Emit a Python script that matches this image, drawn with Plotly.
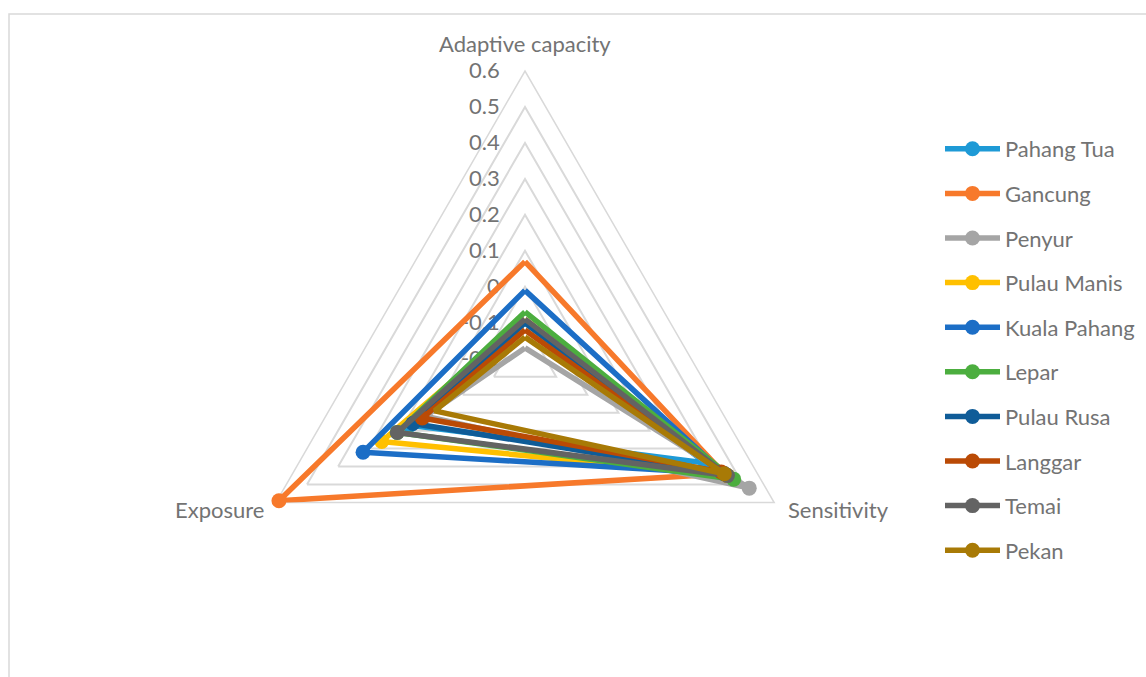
import math
import plotly.graph_objects as go

# Vulnerability components for each coastal village
categories = ["Adaptive capacity", "Sensitivity", "Exposure"]

pahang_tua = [-0.10, 0.38, 0.17]
gancung = [0.07, 0.44, 0.59]
penyur = [-0.17, 0.52, 0.12]
pulau_manis = [-0.09, 0.45, 0.26]
kuala_pahang = [-0.01, 0.44, 0.32]
lepar = [-0.07, 0.47, 0.21]
pulau_rusa = [-0.10, 0.44, 0.16]
langgar = [-0.12, 0.43, 0.13]
temai = [-0.09, 0.45, 0.21]
pekan = [-0.14, 0.44, 0.09]

series = [
    ("Pahang Tua", pahang_tua, "#1E9AD6"),
    ("Gancung", gancung, "#F7792B"),
    ("Penyur", penyur, "#A5A5A5"),
    ("Pulau Manis", pulau_manis, "#FFC000"),
    ("Kuala Pahang", kuala_pahang, "#1C6EC6"),
    ("Lepar", lepar, "#4CAE3F"),
    ("Pulau Rusa", pulau_rusa, "#0F5C98"),
    ("Langgar", langgar, "#BA4A05"),
    ("Temai", temai, "#636363"),
    ("Pekan", pekan, "#A87A06"),
]

radial_ticks = [-0.2, -0.1, 0, 0.1, 0.2, 0.3, 0.4, 0.5, 0.6]
radial_labels = ["-0.2", "-0.1", "0", "0.1", "0.2", "0.3", "0.4", "0.5", "0.6"]

FONT = "Lato"
TEXT = "#737373"
GRID = "#D9D9D9"
FS = 22

fig = go.Figure()
for i, (name, vals, color) in enumerate(series):
    fig.add_trace(go.Scatterpolar(
        r=vals + [vals[0]],
        theta=categories + [categories[0]],
        mode="lines+markers",
        name=name,
        legendgroup=f"g{i}",
        line=dict(color=color, width=5.5),
        marker=dict(color=color, size=15),
    ))

W, H = 1146, 677
cx, cy, R = 525, 358.7, 287.7


def px_to_paper(x, y):
    return x / W, 1 - y / H


# Category names sit just outside the triangle's corners
corner = {
    "Adaptive capacity": (cx, cy - R),
    "Sensitivity": (cx + R * math.cos(math.radians(30)), cy + R / 2),
    "Exposure": (cx - R * math.cos(math.radians(30)), cy + R / 2),
}
label_style = {
    "Adaptive capacity": dict(dx=0, dy=-28, xanchor="center"),
    "Sensitivity": dict(dx=12, dy=6.5, xanchor="left"),
    "Exposure": dict(dx=-10, dy=6.5, xanchor="right"),
}
annotations = []
for cat in categories:
    vx, vy = corner[cat]
    st = label_style[cat]
    ax_, ay_ = px_to_paper(vx + st["dx"], vy + st["dy"])
    annotations.append(dict(
        text=cat, x=ax_, y=ay_, xref="paper", yref="paper",
        xanchor=st["xanchor"], yanchor="middle", showarrow=False,
        font=dict(family=FONT, color=TEXT, size=FS),
    ))

fig.update_layout(
    width=W, height=H,
    margin=dict(l=0, r=0, t=0, b=0),
    paper_bgcolor="white",
    plot_bgcolor="white",
    font=dict(family=FONT, color=TEXT, size=FS),
    polar=dict(
        domain=dict(x=[(cx - R) / W, (cx + R) / W],
                    y=[1 - (cy + R) / H, 1 - (cy - R) / H]),
        bgcolor="white",
        gridshape="linear",
        radialaxis=dict(
            range=[-0.2, 0.6],
            tickvals=radial_ticks,
            ticktext=radial_labels,
            angle=90,
            side="counterclockwise",
            tickangle=90,
            showline=False,
            ticks="outside",
            ticklen=17,
            tickcolor="rgba(0,0,0,0)",
            gridcolor=GRID,
            gridwidth=1.5,
            layer="below traces",
            tickfont=dict(family=FONT, color=TEXT, size=FS),
        ),
        angularaxis=dict(
            rotation=90,
            direction="clockwise",
            showgrid=False,
            showline=True,
            linecolor=GRID,
            linewidth=1.5,
            ticks="",
            showticklabels=False,
            layer="below traces",
        ),
    ),
    annotations=annotations,
    legend=dict(
        x=940 / W, xanchor="left",
        y=1 - 128 / H, yanchor="top",
        font=dict(family=FONT, color=TEXT, size=FS),
        itemwidth=55,
        tracegroupgap=13,
        bgcolor="rgba(0,0,0,0)",
    ),
    shapes=[dict(
        type="rect", xref="paper", yref="paper",
        x0=9 / W, x1=1.05, y0=-0.05, y1=1 - 14 / H,
        line=dict(color=GRID, width=1.5),
        fillcolor="rgba(0,0,0,0)",
        layer="below",
    )],
)

fig.write_html("out.html")
